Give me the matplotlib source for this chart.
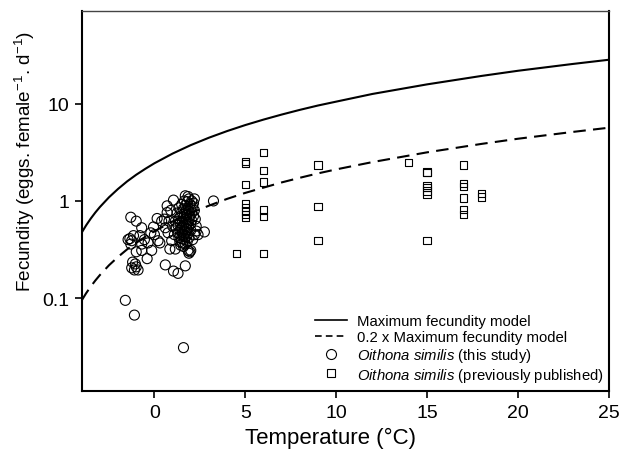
#!/usr/bin/env python3
"""Fecundity vs temperature for Oithona similis, with max-fecundity model curves."""

import matplotlib
matplotlib.use("Agg")
import matplotlib.pyplot as plt
from matplotlib.lines import Line2D

plt.rcParams["font.family"] = ["Liberation Sans", "DejaVu Sans"]
plt.rcParams["mathtext.fontset"] = "custom"
plt.rcParams["mathtext.rm"] = "Liberation Sans"
plt.rcParams["mathtext.it"] = "Liberation Sans:italic"

# model curves
model_temp = [-4, -3.75, -3.5, -3.25, -3, -2.5, -2, -1.5, -1, -0.5, 0, 1, 2, 3,
              4, 5, 6, 7, 8, 9, 10, 12, 15, 18, 20, 21, 23, 25]
model_max = [0.473, 0.564, 0.660, 0.761, 0.866, 1.09, 1.33, 1.59, 1.86, 2.14,
             2.44, 3.07, 3.75, 4.47, 5.23, 6.03, 6.86, 7.73, 8.64, 9.58,
             10.5, 12.6, 15.8, 19.3, 21.8, 23.0, 25.6, 28.3]
model_02 = [0.095, 0.113, 0.132, 0.152, 0.173, 0.218, 0.266, 0.318, 0.371, 0.428,
            0.488, 0.614, 0.750, 0.894, 1.05, 1.21, 1.37, 1.55, 1.73, 1.92,
            2.11, 2.51, 3.16, 3.86, 4.36, 4.60, 5.12, 5.66]

# Oithona similis, this study
study_temp = [-1.6, -1.1, 1.6,
              -1.2, -1.05, -1.25, -1.1, -0.9, -1.0,
              -1.3, -1.0, -0.7, -1.35, -1.25, -1.45, -1.15, -0.8, -0.7, -0.35,
              -0.15, -0.4, -0.7, -1.0, -1.3, -0.55, -0.05, 0.15, 0.2, 0.3,
              0.0, 0.4, -0.2,
              0.6, 1.05, 1.3, 1.7, 0.85, 1.15, 1.85, 2.0, 2.3, 2.75, 3.25,
              0.7, 1.05, 1.7, 1.85, 0.7, 0.6, 0.75, 0.95, 1.9, 1.95, 2.4,
              0.55, 0.9, 1.0, 0.8,
              1.9, 2.05, 1.8, 2.15, 1.95, 1.7, 2.1, 1.85, 2.0, 1.6, 1.75, 2.2,
              1.9, 1.5, 2.05, 1.65, 1.8, 1.95, 1.45, 2.15, 1.6, 1.75, 1.9, 1.35,
              2.05, 1.55, 1.7, 1.85, 1.4, 2.0, 1.6, 1.75, 1.3, 1.9, 1.5, 1.65,
              1.8, 1.4, 2.0, 1.55, 1.7, 1.3, 1.85, 1.45, 1.6, 1.75, 1.35, 1.5,
              1.9, 1.65, 1.4, 1.55, 1.8, 1.7, 1.45, 1.6, 2.1, 2.2, 2.3, 1.2,
              1.15, 1.25, 1.1, 2.25, 1.35, 1.5, 1.65, 2.2]
study_fec = [0.095, 0.067, 0.031,
             0.235, 0.225, 0.205, 0.195, 0.195, 0.21,
             0.68, 0.62, 0.53, 0.41, 0.39, 0.40, 0.44, 0.44, 0.36, 0.37,
             0.31, 0.255, 0.31, 0.30, 0.36, 0.40, 0.54, 0.66, 0.39, 0.37,
             0.45, 0.62, 0.47,
             0.22, 0.19, 0.18, 0.215, 0.32, 0.32, 0.31, 0.31, 0.49, 0.48, 1.0,
             0.89, 1.02, 1.13, 1.11, 0.76, 0.53, 0.47, 0.39, 0.29, 0.30, 0.45,
             0.65, 0.80, 0.55, 0.62,
             1.05, 1.0, 0.98, 0.95, 0.92, 0.90, 0.88, 0.85, 0.82, 0.83, 0.80, 0.80,
             0.78, 0.77, 0.75, 0.74, 0.72, 0.70, 0.70, 0.70, 0.68, 0.66, 0.65, 0.66,
             0.63, 0.62, 0.61, 0.60, 0.60, 0.58, 0.57, 0.56, 0.56, 0.55, 0.54, 0.52,
             0.51, 0.50, 0.50, 0.48, 0.47, 0.47, 0.46, 0.45, 0.44, 0.43, 0.42, 0.41,
             0.42, 0.40, 0.38, 0.37, 0.38, 0.36, 0.35, 0.34, 0.40, 0.45, 0.55, 0.52,
             0.62, 0.75, 0.45, 0.65, 0.85, 0.92, 1.0, 1.05]

# Oithona similis, previously published
pub_temp = [4.5, 5, 5, 5, 5, 5, 5, 5, 5,
            6, 6, 6, 6, 6, 6,
            9, 9, 9, 14,
            15, 15, 15, 15, 15, 15, 15,
            17, 17, 17, 17, 17, 17, 18, 18]
pub_fec = [0.29, 2.53, 2.44, 1.48, 0.93, 0.85, 0.79, 0.72, 0.68,
           3.14, 2.07, 1.57, 0.81, 0.69, 0.29,
           2.34, 0.88, 0.39, 2.48,
           1.99, 1.97, 1.45, 1.37, 1.27, 1.17, 0.39,
           2.34, 1.50, 1.40, 1.07, 0.82, 0.72, 1.20, 1.10]

x_ticks = [0, 5, 10, 15, 20, 25]
y_ticks = [0.1, 1, 10]
y_tick_labels = ["0.1", "1", "10"]

fig = plt.figure(figsize=(6.21, 4.6), dpi=100)
ax = fig.add_axes([0.1316, 0.1478, 0.8486, 0.8261])

ax.plot(model_temp, model_max, color="black", lw=1.5)
ax.plot(model_temp, model_02, color="black", lw=1.5, dashes=(6, 3.5))
ax.scatter(study_temp, study_fec, s=52, facecolors="none", edgecolors="black",
           linewidths=0.8, zorder=3)
ax.scatter(pub_temp, pub_fec, s=28, marker="s", facecolors="none",
           edgecolors="black", linewidths=0.8, zorder=3)

ax.set_yscale("log")
ax.set_xlim(-4, 25)
ax.set_ylim(0.0111, 89.8)
ax.set_xticks(x_ticks)
ax.set_xticklabels([str(t) for t in x_ticks])
ax.set_yticks(y_ticks)
ax.set_yticklabels(y_tick_labels)
ax.minorticks_off()
ax.tick_params(direction="out", length=5, width=1.2, labelsize=14, pad=4)

for side in ["left", "bottom", "right"]:
    ax.spines[side].set_linewidth(1.5)
ax.spines["top"].set_linewidth(1.0)
ax.spines["top"].set_color("#444444")

ax.set_xlabel("Temperature (\u00b0C)", fontsize=16)
ax.set_ylabel("Fecundity (eggs. female$^{-1}$. d$^{-1}$)", fontsize=13.6)
ax.xaxis.set_label_coords(0.473, -0.094)
ax.yaxis.set_label_coords(-0.085, 0.607)

handles = [
    Line2D([], [], color="black", lw=1.2),
    Line2D([], [], color="black", lw=1.2, dashes=(4, 2.5)),
    Line2D([], [], marker="o", ls="none", mfc="none", mec="black", ms=7.2, mew=0.8),
    Line2D([], [], marker="s", ls="none", mfc="none", mec="black", ms=5.5, mew=0.8),
]
labels = [
    "Maximum fecundity model",
    "0.2 x Maximum fecundity model",
    r"$\it{Oithona\ similis}$ (this study)",
    r"$\it{Oithona\ similis}$ (previously published)",
]
ax.legend(handles, labels, loc="lower right", bbox_to_anchor=(0.999, 0.008),
          frameon=False, fontsize=10.7, handlelength=2.15, handletextpad=0.65,
          labelspacing=0.12, borderpad=0.25, borderaxespad=0.05)

fig.savefig("out.png", dpi=100)
